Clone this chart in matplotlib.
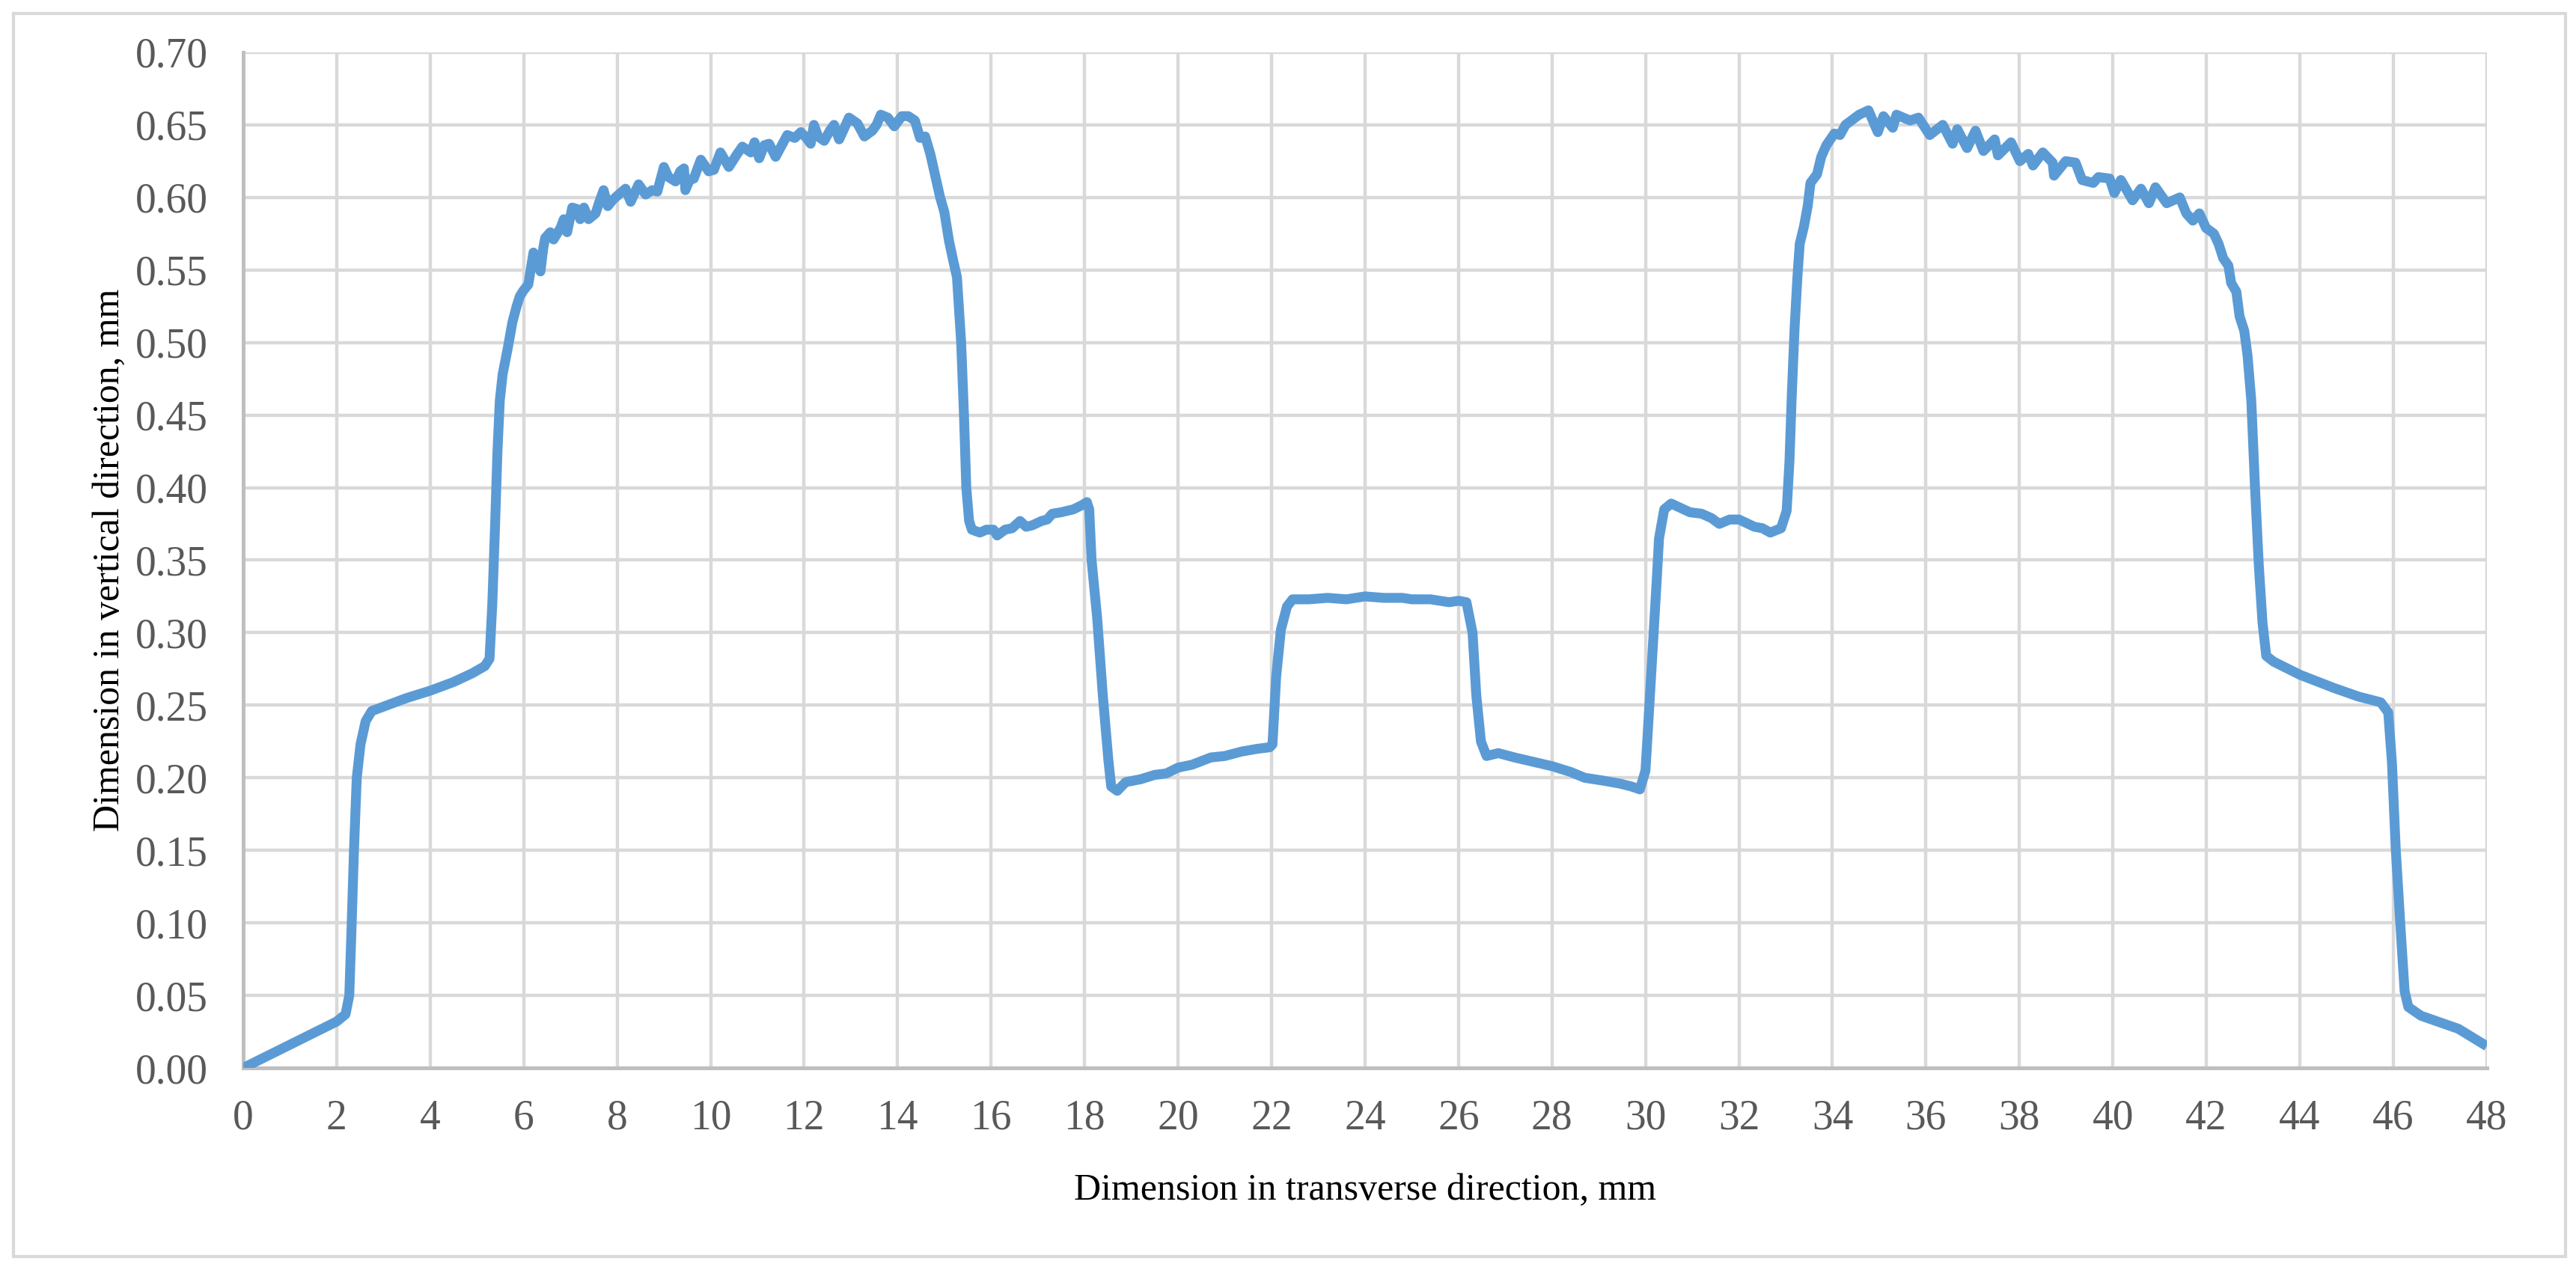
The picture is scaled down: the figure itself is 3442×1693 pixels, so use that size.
import matplotlib
matplotlib.use("Agg")
import matplotlib.pyplot as plt
from matplotlib.patches import Rectangle

# profile (mm, mm)
x_mm = [0.00, 0.50, 1.00, 1.50, 2.00, 2.19, 2.27, 2.32, 2.37, 2.43, 2.51, 2.62, 2.75, 3.00,
        3.50, 4.00, 4.50, 4.90, 5.17, 5.27, 5.33, 5.39, 5.44, 5.49, 5.55, 5.66, 5.76, 5.85,
        5.92, 6.00, 6.10, 6.16, 6.21, 6.28, 6.36, 6.42, 6.46, 6.57, 6.64, 6.79, 6.86, 6.93,
        7.04, 7.14, 7.21, 7.29, 7.39, 7.54, 7.61, 7.71, 7.80, 7.90, 8.00, 8.18, 8.29, 8.46,
        8.61, 8.75, 8.86, 9.00, 9.10, 9.25, 9.35, 9.43, 9.46, 9.55, 9.64, 9.79, 9.96, 10.07,
        10.21, 10.39, 10.57, 10.68, 10.86, 10.94, 11.04, 11.15, 11.25, 11.39, 11.54, 11.64,
        11.80, 11.93, 12.05, 12.14, 12.21, 12.30, 12.43, 12.55, 12.64, 12.75, 12.85, 12.96,
        13.14, 13.29, 13.46, 13.55, 13.64, 13.79, 13.93, 14.09, 14.23, 14.37, 14.48, 14.59,
        14.70, 14.77, 14.91, 15.00, 15.10, 15.20, 15.27, 15.36, 15.42, 15.47, 15.53, 15.59,
        15.76, 15.90, 16.05, 16.13, 16.30, 16.45, 16.62, 16.75, 16.88, 17.08, 17.20, 17.31,
        17.50, 17.76, 17.95, 18.05, 18.10, 18.15, 18.27, 18.39, 18.51, 18.57, 18.70, 18.88,
        19.20, 19.50, 19.75, 20.00, 20.30, 20.70, 21.00, 21.35, 21.70, 21.96, 22.02, 22.10,
        22.20, 22.33, 22.45, 22.80, 23.20, 23.60, 24.00, 24.40, 24.80, 25.00, 25.40, 25.80,
        26.00, 26.17, 26.30, 26.38, 26.48, 26.60, 26.85, 27.20, 27.60, 28.00, 28.40, 28.70,
        29.10, 29.45, 29.70, 29.88, 30.00, 30.12, 30.24, 30.29, 30.40, 30.55, 30.95, 31.20,
        31.41, 31.58, 31.80, 32.00, 32.33, 32.50, 32.67, 32.90, 33.02, 33.08, 33.13, 33.19,
        33.25, 33.30, 33.39, 33.47, 33.53, 33.67, 33.76, 33.87, 34.04, 34.16, 34.28, 34.57,
        34.77, 34.97, 35.09, 35.29, 35.37, 35.66, 35.84, 36.08, 36.36, 36.57, 36.67, 36.88,
        37.06, 37.23, 37.47, 37.54, 37.82, 38.01, 38.19, 38.29, 38.50, 38.71, 38.74, 38.99,
        39.20, 39.34, 39.58, 39.69, 39.93, 40.03, 40.17, 40.42, 40.60, 40.77, 40.91, 41.15,
        41.43, 41.57, 41.71, 41.85, 41.99, 42.16, 42.26, 42.36, 42.47, 42.53, 42.64, 42.71,
        42.81, 42.88, 42.96, 43.04, 43.12, 43.20, 43.28, 43.44, 44.00, 44.72, 45.25, 45.73,
        45.89, 45.97, 46.05, 46.16, 46.24, 46.32, 46.59, 47.39, 48.00]
y_mm = [0.000, 0.008, 0.016, 0.024, 0.032, 0.037, 0.050, 0.098, 0.150, 0.200, 0.223, 0.239,
        0.246, 0.249, 0.255, 0.260, 0.266, 0.272, 0.277, 0.282, 0.320, 0.375, 0.425, 0.460,
        0.478, 0.496, 0.514, 0.525, 0.532, 0.536, 0.540, 0.552, 0.562, 0.556, 0.549, 0.565,
        0.572, 0.576, 0.571, 0.579, 0.585, 0.576, 0.593, 0.592, 0.585, 0.593, 0.585, 0.589,
        0.596, 0.605, 0.594, 0.598, 0.601, 0.606, 0.597, 0.609, 0.602, 0.605, 0.604, 0.621,
        0.614, 0.611, 0.618, 0.620, 0.605, 0.612, 0.613, 0.626, 0.618, 0.619, 0.631, 0.621,
        0.630, 0.635, 0.631, 0.638, 0.627, 0.636, 0.637, 0.628, 0.637, 0.643, 0.641, 0.645,
        0.641, 0.637, 0.650, 0.642, 0.639, 0.646, 0.650, 0.640, 0.647, 0.655, 0.651, 0.642,
        0.646, 0.650, 0.657, 0.655, 0.649, 0.656, 0.656, 0.653, 0.641, 0.642, 0.630, 0.620,
        0.600, 0.590, 0.570, 0.555, 0.545, 0.500, 0.450, 0.400, 0.377, 0.371, 0.369, 0.371,
        0.371, 0.367, 0.371, 0.372, 0.377, 0.373, 0.374, 0.377, 0.378, 0.382, 0.383, 0.385,
        0.388, 0.390, 0.385, 0.350, 0.310, 0.257, 0.212, 0.194, 0.191, 0.197, 0.199, 0.202,
        0.203, 0.207, 0.209, 0.214, 0.215, 0.218, 0.220, 0.221, 0.223, 0.270, 0.302, 0.318,
        0.323, 0.323, 0.324, 0.323, 0.325, 0.324, 0.324, 0.323, 0.323, 0.321, 0.322, 0.321,
        0.300, 0.257, 0.225, 0.215, 0.217, 0.214, 0.211, 0.208, 0.204, 0.200, 0.198, 0.196,
        0.194, 0.192, 0.205, 0.270, 0.336, 0.365, 0.385, 0.389, 0.383, 0.382, 0.379, 0.375,
        0.378, 0.378, 0.373, 0.372, 0.369, 0.372, 0.384, 0.418, 0.464, 0.510, 0.545, 0.568,
        0.580, 0.594, 0.610, 0.616, 0.628, 0.636, 0.644, 0.643, 0.650, 0.657, 0.660, 0.645,
        0.656, 0.648, 0.657, 0.653, 0.655, 0.643, 0.650, 0.637, 0.647, 0.634, 0.646, 0.632,
        0.640, 0.629, 0.638, 0.625, 0.630, 0.622, 0.631, 0.624, 0.615, 0.625, 0.624, 0.612,
        0.610, 0.614, 0.613, 0.603, 0.612, 0.598, 0.606, 0.596, 0.607, 0.596, 0.600, 0.589,
        0.584, 0.589, 0.579, 0.575, 0.568, 0.558, 0.553, 0.541, 0.535, 0.518, 0.508, 0.491,
        0.460, 0.400, 0.347, 0.307, 0.284, 0.280, 0.271, 0.262, 0.256, 0.252, 0.245, 0.210,
        0.151, 0.093, 0.053, 0.042, 0.036, 0.027, 0.015]

x_ticks = list(range(0, 49, 2))
y_ticks = [i * 0.05 for i in range(15)]

plt.rcParams['font.family'] = ['Liberation Serif', 'DejaVu Serif']

fig = plt.figure(figsize=(34.42, 16.93), dpi=100)
ax = fig.add_axes([0.0944, 0.1571, 0.8710, 0.8016])

ax.plot(x_mm, y_mm, color='#5B9BD5', lw=9.5, solid_joinstyle='round', solid_capstyle='butt', zorder=3)

ax.set_xlim(0, 48)
ax.set_ylim(0, 0.70)
ax.set_xticks(x_ticks)
ax.set_yticks(y_ticks)
ax.set_yticklabels([f'{v:.2f}' for v in y_ticks])
ax.grid(True, color='#D9D9D9', lw=3.2)
ax.set_axisbelow(True)
ax.tick_params(length=0, labelsize=40, colors='#595959')
ax.tick_params(axis='x', pad=30)
ax.tick_params(axis='y', pad=34)

for s in ['top', 'right']:
    ax.spines[s].set_visible(False)
for s in ['left', 'bottom']:
    ax.spines[s].set_color('#BFBFBF')
    ax.spines[s].set_linewidth(3.6)

ax.set_xlabel('Dimension in transverse direction, mm', fontsize=36, color='#000000', labelpad=34)
ax.set_ylabel('Dimension in vertical direction, mm', fontsize=36, color='#000000', labelpad=8)

# chart border
fig.patches.append(Rectangle((18 / 3442, 14 / 1693), 3410 / 3442, 1661 / 1693,
                             transform=fig.transFigure, fill=False,
                             edgecolor='#D9D9D9', lw=3))

fig.savefig('out.png', dpi=100, facecolor='white')
